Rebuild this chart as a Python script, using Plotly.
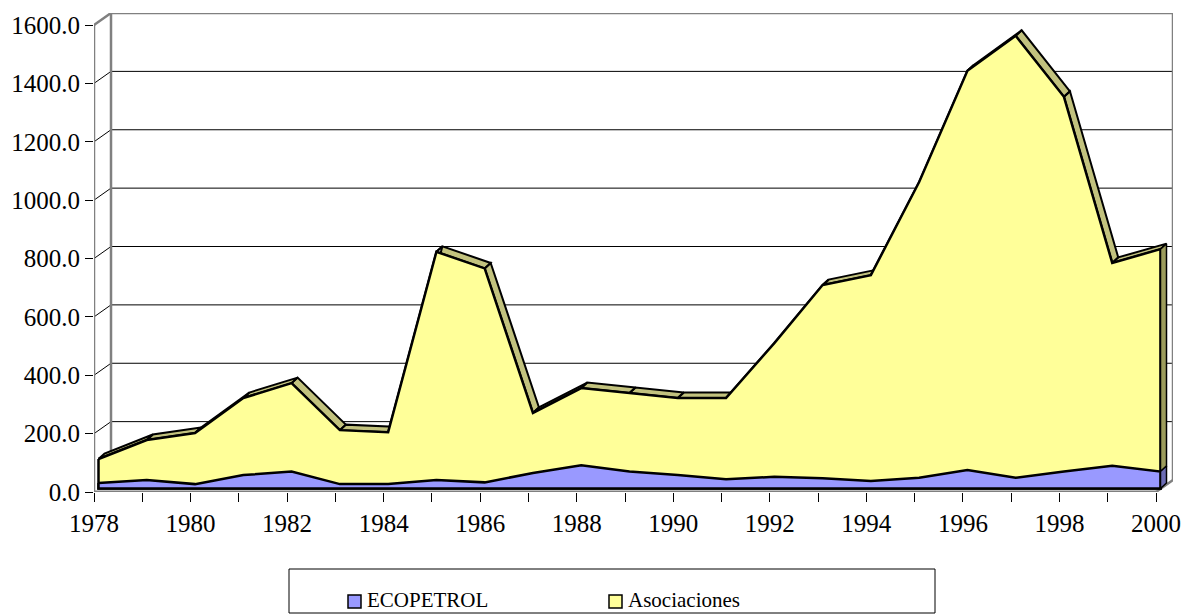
import plotly.graph_objects as go

# ---------------- data ----------------
years = list(range(1978, 2001))
ecopetrol = [19, 29, 15, 46, 58, 15, 15, 29, 21, 53, 80, 58, 46, 32, 40, 35, 26, 37, 63, 37, 58, 78, 58]
asociaciones = [82, 137, 175, 264, 303, 185, 178, 782, 733, 206, 264, 269, 264, 278, 458, 662, 705,
                1013, 1368, 1514, 1284, 695, 762]
series_names = ["ECOPETROL", "Asociaciones"]
y_ticks = [0, 200, 400, 600, 800, 1000, 1200, 1400, 1600]
x_label_years = [y for y in years if y % 2 == 0]

# ---------------- styling / geometry ----------------
W, H = 1184, 614
ML, MT = 94, 13
FRONT_W_PX, FRONT_H_PX = 1062, 467
DEPTH_X_PX, DEPTH_Y_PX = 17, 12          # back wall offset
FACE_X_PX, FACE_Y_PX = 4.5, 3.5          # front face of series offset
RIB_X_PX, RIB_Y_PX = 6, 5.5              # thickness of the 3D series
PLOT_W = FRONT_W_PX + DEPTH_X_PX
PLOT_H = FRONT_H_PX + DEPTH_Y_PX
MR = W - ML - PLOT_W
MB = H - MT - PLOT_H

X0, X1 = years[0], years[-1]
YMAX = y_ticks[-1]
kx = FRONT_W_PX / (X1 - X0)
ky = FRONT_H_PX / YMAX
DXb, DYb = DEPTH_X_PX / kx, DEPTH_Y_PX / ky
dxf, dyf = FACE_X_PX / kx, FACE_Y_PX / ky
dxr, dyr = RIB_X_PX / kx, RIB_Y_PX / ky

BLUE, YELLOW = "#9999FF", "#FFFF99"
YELLOW_TOP, YELLOW_SIDE = "#C2C27E", "#9C9C5C"
BLUE_SIDE = "#6C6CB4"
GRAY = "#808080"
FONT = "Liberation Serif, DejaVu Serif, serif"

total = [e + a for e, a in zip(ecopetrol, asociaciones)]
fx = [y + dxf for y in years]
ftop = [t + dyf for t in total]
feco = [e + dyf for e in ecopetrol]

fig = go.Figure()

# top surface (ribbon) of the stacked series
rx, ry = [], []
for i in range(len(years) - 1):
    rx += [fx[i], fx[i + 1], fx[i + 1] + dxr, fx[i] + dxr, fx[i], None]
    ry += [ftop[i], ftop[i + 1], ftop[i + 1] + dyr, ftop[i] + dyr, ftop[i], None]
fig.add_trace(go.Scatter(x=rx, y=ry, mode="lines", fill="toself", fillcolor=YELLOW_TOP,
                         line=dict(color="black", width=2), hoverinfo="skip", showlegend=False))

# front faces
fig.add_trace(go.Scatter(x=fx + [fx[-1], fx[0], fx[0]], y=ftop + [dyf, dyf, ftop[0]],
                         mode="lines", fill="toself", fillcolor=YELLOW,
                         line=dict(color="black", width=2.5), name=series_names[1], showlegend=False))
fig.add_trace(go.Scatter(x=fx + [fx[-1], fx[0], fx[0]], y=feco + [dyf, dyf, feco[0]],
                         mode="lines", fill="toself", fillcolor=BLUE,
                         line=dict(color="black", width=2.5), name=series_names[0], showlegend=False))

# right side faces at the last year
xl = fx[-1]
fig.add_trace(go.Scatter(x=[xl, xl, xl + dxr, xl + dxr, xl],
                         y=[feco[-1], ftop[-1], ftop[-1] + dyr, feco[-1] + dyr, feco[-1]],
                         mode="lines", fill="toself", fillcolor=YELLOW_SIDE,
                         line=dict(color="black", width=1.5), hoverinfo="skip", showlegend=False))
fig.add_trace(go.Scatter(x=[xl, xl, xl + dxr, xl + dxr, xl],
                         y=[dyf, feco[-1], feco[-1] + dyr, dyf + dyr, dyf],
                         mode="lines", fill="toself", fillcolor=BLUE_SIDE,
                         line=dict(color="black", width=1.5), hoverinfo="skip", showlegend=False))

shapes = []
# back wall gridlines and side wall diagonals
for v in y_ticks[1:-1]:
    shapes.append(dict(type="line", x0=X0 + DXb, x1=X1 + DXb, y0=v + DYb, y1=v + DYb,
                       line=dict(color="black", width=1), layer="below"))
    shapes.append(dict(type="line", x0=X0, x1=X0 + DXb, y0=v, y1=v + DYb,
                       line=dict(color="black", width=1), layer="below"))
# walls (gray)
wall = [
    (X0 + DXb, DYb, X0 + DXb, YMAX + DYb),
    (X0 + DXb, YMAX + DYb, X1 + DXb, YMAX + DYb),
    (X1 + DXb, DYb, X1 + DXb, YMAX + DYb),
    (X0, 0, X0, YMAX),
    (X0, YMAX, X0 + DXb, YMAX + DYb),
    (X1, 0, X1 + DXb, DYb),
]
for a, b, c, d in wall:
    shapes.append(dict(type="line", x0=a, y0=b, x1=c, y1=d,
                       line=dict(color=GRAY, width=2.5), layer="below"))
shapes.append(dict(type="line", x0=X0, y0=0, x1=X1, y1=0,
                   line=dict(color=GRAY, width=3), layer="above"))

# manual legend (pixel geometry -> paper coords)
def px(xp):
    return (xp - ML) / PLOT_W


def py(yp):
    return (H - MB - yp) / PLOT_H


shapes.append(dict(type="rect", xref="paper", yref="paper", x0=px(289), x1=px(935),
                   y0=py(613), y1=py(569), line=dict(color="black", width=1), fillcolor="white"))
annotations = []
for (sx, tx), name, col in zip([(348, 365), (609, 626)], series_names, [BLUE, YELLOW]):
    shapes.append(dict(type="rect", xref="paper", yref="paper", x0=px(sx), x1=px(sx + 13),
                       y0=py(608), y1=py(595), line=dict(color="black", width=1.5), fillcolor=col))
    annotations.append(dict(xref="paper", yref="paper", x=px(tx), y=py(600), text=name,
                            showarrow=False, xanchor="left", yanchor="middle",
                            font=dict(family=FONT, size=21, color="black")))

fig.update_layout(
    width=W, height=H,
    margin=dict(l=ML, r=MR, t=MT, b=MB, pad=0),
    paper_bgcolor="white", plot_bgcolor="white",
    shapes=shapes, annotations=annotations,
    showlegend=False,
    font=dict(family=FONT),
    xaxis=dict(range=[X0, X1 + DXb], showgrid=False, zeroline=False, showline=False,
               automargin=False,
               tickmode="array", tickvals=years,
               ticktext=[str(y) if y in x_label_years else "" for y in years],
               ticks="outside", ticklen=9, tickcolor="black", tickwidth=1,
               tickfont=dict(family=FONT, size=25, color="black"), fixedrange=True),
    yaxis=dict(range=[0, YMAX + DYb], showgrid=False, zeroline=False, showline=False,
               automargin=False,
               tickmode="array", tickvals=y_ticks, ticktext=[f"{v:.1f}" for v in y_ticks],
               ticks="outside", ticklen=8, tickcolor="black", tickwidth=1,
               tickfont=dict(family=FONT, size=25, color="black"), fixedrange=True),
)

fig.write_html("out.html", config={"displayModeBar": False},
               post_script="document.body.style.margin='0';document.body.style.overflow='hidden';")
